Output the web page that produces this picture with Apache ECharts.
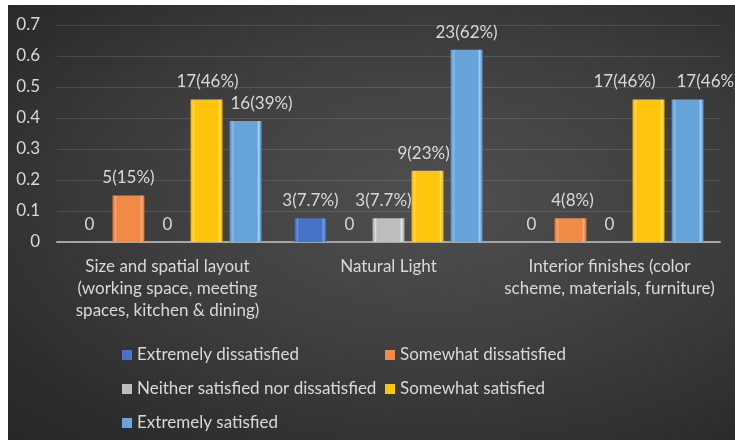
<!DOCTYPE html>
<html><head><meta charset="utf-8">
<script src="https://cdn.jsdelivr.net/npm/echarts@6/dist/echarts.min.js"></script>
<style>
html,body{margin:0;padding:0;background:#fff;width:735px;height:440px;overflow:hidden;}
#bg{position:absolute;left:8px;top:5px;width:727px;height:435px;background:radial-gradient(ellipse at 58% 45%, #4f4f4f 0%, #414141 40%, #2c2c2c 85%, #262626 100%);}
#chart{position:absolute;left:0;top:0;width:735px;height:440px;}
</style></head>
<body><div id="bg"></div><div id="chart"></div>
<script>
const categories = [
  "Size and spatial layout\n(working space, meeting\nspaces, kitchen & dining)",
  "Natural Light",
  "Interior finishes (color\nscheme, materials, furniture)"
];
const seriesNames = ["Extremely dissatisfied","Somewhat dissatisfied","Neither satisfied nor dissatisfied","Somewhat satisfied","Extremely satisfied"];
const extremelyDissatisfied = [0, 0.077, 0];
const somewhatDissatisfied = [0.15, 0, 0.077];
const neitherSatisfied = [0, 0.077, 0];
const somewhatSatisfied = [0.46, 0.23, 0.46];
const extremelySatisfied = [0.39, 0.62, 0.46];
const extremelyDissatisfiedLabels = ["0", "3(7.7%)", "0"];
const somewhatDissatisfiedLabels = ["5(15%)", "0", "4(8%)"];
const neitherSatisfiedLabels = ["0", "3(7.7%)", "0"];
const somewhatSatisfiedLabels = ["17(46%)", "9(23%)", "17(46%)"];
const extremelySatisfiedLabels = ["16(39%)", "23(62%)", "17(46%)"];
const yTicks = [0, 0.1, 0.2, 0.3, 0.4, 0.5, 0.6, 0.7];

// label horizontal nudges (layout only), as in the original chart
const labelNudge = [[0,0,0],[0,0,2],[0,-5,0],[1,-4,-24],[16,0,20]];

const palette = [
  ["#6b93dc", "#4673c6", "#345ba8", "#7aa2e8"],
  ["#f7a673", "#f08a45", "#d8722e", "#f9b487"],
  ["#dedede", "#bdbdbd", "#a3a3a3", "#e8e8e8"],
  ["#ffd84a", "#ffc40c", "#f0b000", "#ffe36a"],
  ["#8dbde9", "#68a4dc", "#4f8cc8", "#a7d0f3"]
];
function grad(c){
  return {type:'linear',x:0,y:0,x2:1,y2:0,colorStops:[
    {offset:0,color:c[2]},{offset:0.1,color:c[0]},{offset:0.14,color:c[1]},
    {offset:0.86,color:c[1]},{offset:0.9,color:c[3]},{offset:1,color:c[2]}]};
}
const values = [extremelyDissatisfied, somewhatDissatisfied, neitherSatisfied, somewhatSatisfied, extremelySatisfied];
const labels = [extremelyDissatisfiedLabels, somewhatDissatisfiedLabels, neitherSatisfiedLabels, somewhatSatisfiedLabels, extremelySatisfiedLabels];
const fontFam = 'Lato, "Open Sans", sans-serif';
const txt = '#d9d9d9';

const series = seriesNames.map((n,i)=>({
  name:n, type:'bar', barWidth:32, barGap:'22%',
  data: values[i],
  itemStyle:{color:grad(palette[i]), borderWidth:0},
  label:{show:true, position:'top', distance:9, color:txt, fontSize:17, fontFamily:fontFam,
    formatter:p=>labels[i][p.dataIndex]},
  labelLayout:function(p){ return {dx: labelNudge[i][p.dataIndex] || 0}; },
  emphasis:{disabled:true}
}));

const chart = echarts.init(document.getElementById('chart'), null, {renderer:'canvas'});
chart.setOption({
  backgroundColor:'transparent',
  animation:false,
  grid:{left:57,right:15,top:25,bottom:198,containLabel:false},
  legend:[
    {data:[seriesNames[0],seriesNames[2],seriesNames[4]], orient:'vertical', left:117, top:341,
     icon:'rect', itemWidth:10, itemHeight:10, itemGap:16,
     textStyle:{color:txt, fontSize:17, fontFamily:fontFam, lineHeight:18}},
    {data:[seriesNames[1],seriesNames[3]], orient:'vertical', left:380, top:341,
     icon:'rect', itemWidth:10, itemHeight:10, itemGap:16,
     textStyle:{color:txt, fontSize:17, fontFamily:fontFam, lineHeight:18}}
  ],
  xAxis:{type:'category', data:categories,
    axisLine:{lineStyle:{color:'#a6a6a6', width:2}}, axisTick:{show:false},
    axisLabel:{color:txt, fontSize:17, fontFamily:fontFam, lineHeight:22, margin:14, interval:0}},
  yAxis:{type:'value', min:0, max:0.7, interval:0.1,
    axisLabel:{color:txt, fontSize:17, fontFamily:fontFam, margin:17,
      formatter:v=>{const t=yTicks.find(x=>Math.abs(x-v)<1e-9);return String(t!==undefined?t:v);}},
    axisLine:{show:false}, axisTick:{show:false},
    splitLine:{lineStyle:{color:'rgba(255,255,255,0.12)', width:1}}},
  series:series
});
</script></body></html>
